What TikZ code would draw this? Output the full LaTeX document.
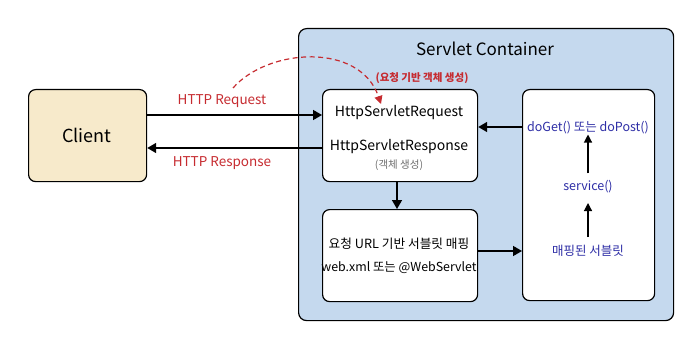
\documentclass[tikz,border=0pt]{standalone}
\usepackage{fontspec}
\setmainfont{Noto Sans CJK KR}
\usetikzlibrary{arrows.meta}
\definecolor{clientfill}{HTML}{F7EACB}
\definecolor{contfill}{HTML}{C5D9EE}
\definecolor{redtxt}{HTML}{C62B30}
\definecolor{bluetxt}{HTML}{2E2EA6}
\definecolor{graytxt}{HTML}{6E6E6E}
\begin{document}
\begin{tikzpicture}[x=1pt,y=-1pt,
  box/.style={draw=black, line width=1.2pt, rounded corners=7pt, fill=white},
  arr/.style={line width=1.5pt, -{Triangle[length=9pt,width=10pt]}},
  lbl/.style={inner sep=0pt, font=\fontsize{13}{15}\selectfont},
]
\useasboundingbox (0,0) rectangle (700,350);
% container
\node[draw=black, line width=1.2pt, rounded corners=8pt, fill=contfill, minimum width=375pt, minimum height=292pt, anchor=north west, inner sep=0pt] (cont) at (298,28) {};
\node[lbl, font=\fontsize{17}{20}\selectfont] (title) at (485,49) {Servlet Container};
% client
\node[draw=black, line width=1.2pt, rounded corners=7pt, fill=clientfill, minimum width=118pt, minimum height=92pt, anchor=north west, inner sep=0pt] (client) at (28,89) {};
\node[lbl, font=\fontsize{18}{20}\selectfont] (clienttxt) at (87,135) {Client};
% request box
\node[box, minimum width=155pt, minimum height=92pt, anchor=north west, inner sep=0pt] (req) at (322,89) {};
\node[lbl, font=\fontsize{14}{16}\selectfont] (reqtxt) at (399,113) {HttpServletRequest};
\node[lbl, font=\fontsize{14}{16}\selectfont] (restxt) at (399,147) {HttpServletResponse};
\node[lbl, font=\fontsize{10.5}{12}\selectfont, text=graytxt] (objtxt) at (399,165) {(객체 생성)};
% mapping box
\node[box, minimum width=155pt, minimum height=92pt, anchor=north west, inner sep=0pt] (map) at (322,209) {};
\node[lbl, font=\fontsize{12.7}{14}\selectfont] (maptxt1) at (399,244) {요청 URL 기반 서블릿 매핑};
\node[lbl, font=\fontsize{12.4}{14}\selectfont] (maptxt2) at (399,268) {web.xml 또는 @WebServlet};
% right box
\node[box, minimum width=132pt, minimum height=211pt, anchor=north west, inner sep=0pt] (rbox) at (522,89) {};
\node[lbl, font=\fontsize{12.5}{14}\selectfont, text=bluetxt] (doget) at (588,128) {doGet() 또는 doPost()};
\node[lbl, font=\fontsize{12.5}{14}\selectfont, text=bluetxt] (service) at (588,187) {service()};
\node[lbl, font=\fontsize{12.5}{14}\selectfont, text=bluetxt] (mapped) at (588,251) {매핑된 서블릿};
% HTTP arrows
\draw[arr] (client.east |- 0,115) -- (req.west |- 0,115);
\draw[arr] (req.west |- 0,148) -- (client.east |- 0,148);
\node[lbl, font=\fontsize{13.5}{15}\selectfont, text=redtxt] (httpreq) at (222,101) {HTTP Request};
\node[lbl, font=\fontsize{13.5}{15}\selectfont, text=redtxt] (httpres) at (222,163) {HTTP Response};
% dashed arc
\coordinate (dstart) at (233,88);
\coordinate (dend) at (381,104);
\draw[redtxt, line width=1.2pt, dash pattern=on 5pt off 3.5pt, -{Triangle[length=8pt,width=8pt]}]
  (dstart) .. controls (268,48) and (360,42) .. (dend);
\node[lbl, font=\bfseries\fontsize{10.5}{12}\selectfont, text=redtxt] (reqobj) at (422,78) {(요청 기반 객체 생성)};
% internal arrows
\draw[arr] (req.south -| 397,0) -- (map.north -| 397,0);
\draw[arr] (map.east |- 0,251) -- (rbox.west |- 0,251);
\draw[arr] (rbox.west |- 0,127) -- (req.east |- 0,127);
\draw[line width=1.2pt, -{Triangle[length=8pt,width=8pt]}] (service.north) ++(0,-7) coordinate (s1) (s1) -- (doget.south);
\draw[line width=1.2pt, -{Triangle[length=8pt,width=8pt]}] (mapped.north) ++(0,-8) coordinate (m1) (m1) -- (588,203);
\end{tikzpicture}
\end{document}
